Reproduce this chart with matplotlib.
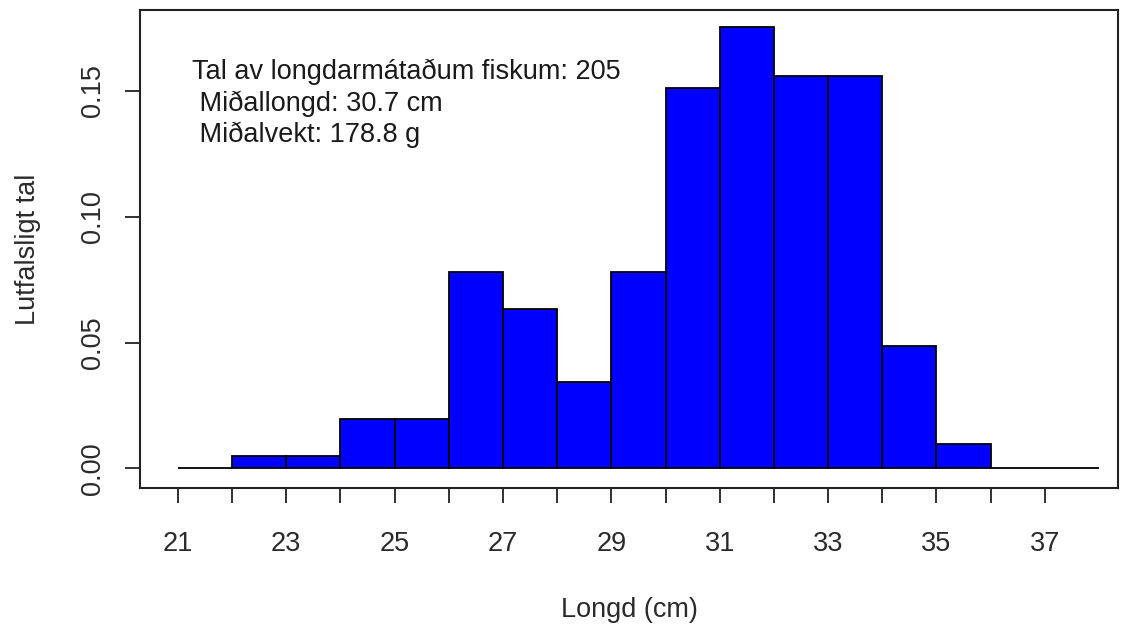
import matplotlib
matplotlib.use("Agg")
import matplotlib.pyplot as plt
import numpy as np

plt.rcParams['font.family'] = ['Liberation Sans', 'DejaVu Sans']

# Data: 1 cm length bins, counts of 205 measured fish
bin_edges = list(range(21, 39))
counts = [0, 1, 1, 4, 4, 16, 13, 7, 16, 31, 36, 32, 32, 10, 2, 0, 0]
n_total = 205
rel_freq = [c / n_total for c in counts]

x_ticks = list(range(21, 38))
x_ticklabels = [str(t) if t % 2 == 1 else "" for t in x_ticks]
y_ticks = [0.00, 0.05, 0.10, 0.15]
y_ticklabels = ["0.00", "0.05", "0.10", "0.15"]

info_lines = ["Tal av longdarmátaðum fiskum: 205",
              " Miðallongd: 30.7 cm",
              " Miðalvekt: 178.8 g"]

FS = 19.5
TXT = '#2a2a2a'

fig = plt.figure(figsize=(11.28, 6.3), dpi=100)
ax = fig.add_axes([140/1128, 1 - 488/630, (1118 - 140)/1128, (488 - 10)/630])

lefts = bin_edges[:-1]
widths = np.diff(bin_edges)
ax.bar(lefts, rel_freq, width=widths, align='edge', color='#0000ff',
       edgecolor='black', linewidth=1.3)

ax.set_xlim(20.3, 38.35)
ax.set_ylim(-0.0078, 0.1822)

ax.set_xticks(x_ticks)
ax.set_xticklabels(x_ticklabels, fontsize=FS, color=TXT)
ax.set_yticks(y_ticks)
ax.set_yticklabels(y_ticklabels, fontsize=FS, rotation=90, va='center',
                   color=TXT)
ax.tick_params(axis='both', length=11, width=1.3, color='#222222')
ax.tick_params(axis='x', pad=20)
ax.tick_params(axis='y', pad=13.5)

for s in ax.spines.values():
    s.set_linewidth(1.5)
    s.set_color('#222222')

ax.set_xlabel("Longd (cm)", fontsize=FS, labelpad=29, color=TXT)
ax.set_ylabel("Lutfalsligt tal", fontsize=FS, labelpad=28, color=TXT)

ax.text(0.0535, 0.898, "\n".join(info_lines), transform=ax.transAxes,
        fontsize=FS, va='top', ha='left', linespacing=1.25, color='#1a1a1a')

fig.savefig("out.png", dpi=100)
